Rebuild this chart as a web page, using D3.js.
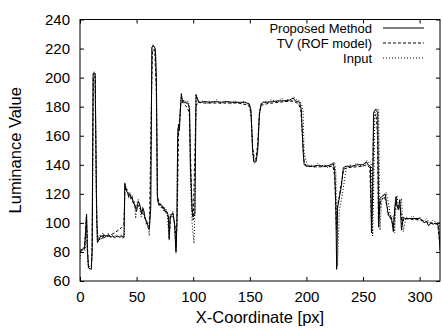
<!DOCTYPE html>
<html>
<head>
<meta charset="utf-8">
<script src="https://cdn.jsdelivr.net/npm/d3@7"></script>
<style>
  body { margin: 0; background: white; }
  svg { display: block; }
  text { font-family: "Liberation Sans", Arial, Helvetica, sans-serif; fill: black; }
</style>
</head>
<body>
<div id="chart"></div>
<script>

// ---- data ----
var xTicks = [0, 50, 100, 150, 200, 250, 300];
var yTicks = [60, 80, 100, 120, 140, 160, 180, 200, 220, 240];

var proposedX = [0, 2, 4, 5, 5.8, 6.5, 7.5, 10, 10.7, 11.6, 13.4, 14.5, 15.3, 16.5, 17.5, 19, 20, 21, 22, 24, 25, 27, 29, 31, 33, 35, 37, 38.8,
  39.6, 41, 42, 43, 44, 45, 46, 47, 48, 49, 50, 51.5, 53, 54.5, 55.5, 56.5, 57.5, 59, 60, 61.3, 62.5, 63.5, 65, 66.5, 67.5, 68.3,
  69, 70, 71, 72.2, 73, 74, 75, 76.6, 78, 78.8, 79.6, 81, 82, 83.5, 84.8, 85.6, 86.3, 87, 87.8, 88.6, 89.5, 90.5, 92, 94, 95.5, 96.8,
  97.5, 99, 100, 101.5, 102.5, 103.5, 105, 107, 110, 115, 120, 125, 130, 135, 140, 145, 149.5, 151, 152.5, 153.5, 155.5, 157, 158.5,
  160, 162, 165, 170, 175, 180, 185, 188.4, 190, 194, 195.5, 197, 198, 200, 205, 210, 215, 220, 223.8, 225, 226, 226.7, 227.5, 229,
  231, 232.6, 235, 240, 245, 250, 253, 254.5, 256.5, 257.5, 258.5, 259.3, 261, 263, 263.8, 265, 266.5, 269.5, 270.5, 272.4, 275,
  276.8, 278, 279.1, 280, 281.2, 282.5, 284, 285.5, 287, 290, 295, 300, 302, 304, 306, 308, 310, 312, 314, 316, 317, 318];
var proposedY = [81, 82, 82, 95, 106, 82, 69, 68, 80, 203, 203, 120, 87, 88, 90, 91, 90, 92, 91, 91, 92, 90, 91, 90, 91, 90, 91, 90,
  127, 122, 121, 118, 120, 117, 118, 114, 113, 110, 108, 115, 112, 106, 110, 108, 103, 101, 98, 97, 110, 221, 222, 220, 200, 120,
  114, 112, 113, 112, 110, 111, 108, 108, 105, 89, 104, 106, 107, 100, 80, 100, 160, 168, 164, 176, 189, 184, 183, 183, 182, 178,
  140, 110, 104, 106, 188, 186, 183, 183, 183.5, 183, 183.5, 183, 183.5, 183, 183, 183, 182, 178, 150, 142, 142, 150, 175,
  182, 183, 183, 183.5, 184, 184, 184.5, 186, 184, 183, 178, 150, 140, 139, 139, 139.5, 139, 139.5, 141, 136, 111, 68, 110, 117,
  126, 138, 139, 139, 140, 140, 142, 140, 139, 93, 120, 176, 178, 176, 97, 117, 118, 120, 115, 105, 104,
  94, 110, 118, 112, 109, 116, 95, 104, 103, 103, 103, 103, 102, 100, 101, 98, 100, 99, 100, 99, 96, 81];

var tvX = [0, 4, 5, 5.8, 6.5, 7.5, 10, 10.8, 11.8, 13.3, 14.8, 16, 18, 22, 26, 30, 34, 37, 38.8, 39.8, 42, 45, 48, 50, 52, 54, 56, 58,
  60, 61.3, 63, 64, 66, 67.5, 68.5, 70, 73, 76, 78, 79, 80, 82, 84, 85, 86, 87, 88, 89, 91, 93, 95, 96.5, 97.5, 99, 100, 102.5, 104,
  110, 120, 130, 140, 149, 151, 152.5, 154, 155.5, 157, 158.5, 160, 165, 175, 188, 193, 195, 196.5, 198, 200, 210, 223.5, 225, 226.5,
  227.5, 229, 231, 233, 236, 250, 253, 256, 257.5, 258.5, 259.5, 261.5, 262.8, 263.6, 265.5, 269, 271, 273, 276, 277, 279, 281, 283,
  284.5, 286, 300, 310, 316, 318];
var tvY = [80, 82, 96, 104, 84, 70, 70, 85, 200, 201, 100, 88, 89, 90, 91, 93, 95, 97, 99, 125, 121, 118, 113, 110, 112, 108, 106, 102,
  97, 95, 180, 219, 219, 190, 118, 113, 111, 107, 104, 92, 104, 105, 98, 84, 110, 160, 170, 183, 183, 181, 179, 176, 150, 108, 102, 180, 183,
  182.5, 182.5, 182.5, 182.5, 181, 176, 152, 144, 144, 155, 176, 181, 182, 183, 184, 182, 178, 160, 142, 139, 138.5, 139, 132, 95,
  112, 118, 128, 137, 138, 139, 140, 138, 100, 130, 172, 175, 160, 100, 115, 118, 112, 105, 100, 98, 114, 110, 112,
  99, 103, 102, 100, 99, 84];

var inputX = [0, 1, 3, 4.5, 5.5, 6.5, 7.5, 10, 10.7, 11.5, 12.5, 13.5, 14.5, 15.5, 17, 18, 19, 20, 21, 22, 23, 25, 26, 28, 30, 32, 34,
  36, 38, 39.3, 39.6, 41, 42, 43, 44, 45, 46, 47, 48, 49.2, 50, 51.5, 53, 54, 55.5, 56.5, 57.5, 58.5, 60, 61.2, 62.5, 63.5, 64.5,
  66, 67, 68.3, 69, 70, 71, 72, 73, 74, 76, 77, 78.8, 79.6, 81, 82, 83.5, 84.8, 85.6, 86.3, 87, 87.8, 88.6, 89.5, 90.5, 92, 94,
  95.5, 96.8, 97.5, 99, 100.7, 101.5, 102.5, 103.5, 106, 109, 112, 115, 118, 121, 124, 127, 130, 133, 136, 139, 142, 145, 148,
  150, 151.5, 152.5, 154, 155.5, 157, 158.5, 160, 163, 166, 169, 172, 175, 178, 181, 184, 187, 188.5, 191, 194, 195.5, 197,
  198, 201, 204, 207, 210, 213, 216, 219, 222, 223.8, 225, 226, 226.7, 227.5, 229, 231, 232.6, 235, 238, 241, 244, 247, 250,
  252, 253.5, 255, 256.5, 257.5, 258.5, 259.3, 260.5, 262, 263, 263.8, 265, 266.5, 268, 269.5, 270.5, 272.4, 274, 275.5, 276.8, 278,
  279.1, 280, 281.2, 282.5, 284, 285.5, 288, 291, 294, 297, 300, 303, 306, 309, 312, 315, 317, 318];
var inputY = [75, 80, 83, 81, 104, 80, 68, 69, 78, 200, 204, 200, 110, 86, 89, 92, 89, 93, 90, 92, 90, 93, 90, 92, 90, 92, 90,
  92, 89, 91, 128, 122, 123, 117, 121, 116, 119, 113, 115, 103, 112, 116, 110, 104, 111, 107, 104, 99, 100, 91, 120, 220, 223,
  219, 215, 115, 116, 112, 114, 110, 112, 108, 110, 106, 88, 106, 104, 108, 98, 79, 102, 165, 160, 170, 178, 187, 183, 185, 182,
  184, 180, 130, 100, 86, 110, 189, 184, 183, 184, 182, 184, 183, 185, 182, 184, 183, 182, 184, 183, 182, 184, 182,
  180, 170, 148, 141, 143, 152, 174, 181, 184, 183, 185, 184, 183, 186, 184, 185, 183, 187, 185, 184, 182, 178, 148,
  139, 140, 138, 141, 139, 140, 138, 139, 141, 142, 134, 105, 70, 108, 116, 124, 137, 140, 139, 141, 140, 139, 141,
  143, 141, 142, 139, 91, 118, 177, 179, 176, 178, 95, 116, 119, 117, 121, 114, 106, 103, 105, 93, 112,
  119, 111, 110, 117, 94, 104, 103, 105, 102, 104, 101, 103, 100, 102, 99, 101, 97, 85];

var seriesNames = ['Proposed Method', 'TV (ROF model)', 'Input'];
var seriesDash = ['none', '3,2', '1,2'];

// ---- layout ----
var width = 443, height = 330;
var plot = {left: 80, right: 440, top: 19.5, bottom: 281};

var svg = d3.select('#chart').append('svg')
    .attr('width', width)
    .attr('height', height);

var x = d3.scaleLinear().domain([0, 318]).range([plot.left, plot.right]);
var y = d3.scaleLinear().domain([60, 240]).range([plot.bottom, plot.top]);

svg.append('defs').append('clipPath').attr('id', 'clip')
  .append('rect')
    .attr('x', plot.left).attr('y', plot.top)
    .attr('width', plot.right - plot.left)
    .attr('height', plot.bottom - plot.top);

// axes, gnuplot style: ticks point inwards and are mirrored
var tickLen = 4;
var axisBottom = d3.axisBottom(x).tickValues(xTicks).tickSizeInner(-tickLen).tickSizeOuter(0).tickPadding(10);
var axisLeft = d3.axisLeft(y).tickValues(yTicks).tickSizeInner(-tickLen).tickSizeOuter(0).tickPadding(10);
var axisTop = d3.axisTop(x).tickValues(xTicks).tickSizeInner(-tickLen).tickSizeOuter(0).tickFormat('');
var axisRight = d3.axisRight(y).tickValues(yTicks).tickSizeInner(-tickLen).tickSizeOuter(0).tickFormat('');

function styleAxis(g) {
  g.select('.domain').remove();
  g.selectAll('line').attr('stroke', 'black').attr('stroke-width', 1);
  g.selectAll('text')
    .style('font-family', '"Liberation Sans", Arial, sans-serif')
    .style('font-size', '15px')
    .attr('fill', 'black');
}

svg.append('g').attr('transform', 'translate(0,' + plot.bottom + ')').call(axisBottom).call(styleAxis);
svg.append('g').attr('transform', 'translate(' + plot.left + ',0)').call(axisLeft).call(styleAxis);
svg.append('g').attr('transform', 'translate(0,' + plot.top + ')').call(axisTop).call(styleAxis);
svg.append('g').attr('transform', 'translate(' + plot.right + ',0)').call(axisRight).call(styleAxis);

// frame
svg.append('rect')
    .attr('x', plot.left).attr('y', plot.top)
    .attr('width', plot.right - plot.left)
    .attr('height', plot.bottom - plot.top)
    .attr('fill', 'none')
    .attr('stroke', 'black')
    .attr('stroke-width', 1);

// axis titles
svg.append('text')
    .attr('x', (plot.left + plot.right) / 2)
    .attr('y', 323)
    .attr('text-anchor', 'middle')
    .style('font-size', '16.5px')
    .text('X-Coordinate [px]');

svg.append('text')
    .attr('transform', 'translate(21,' + (plot.top + plot.bottom) / 2 + ') rotate(-90)')
    .attr('text-anchor', 'middle')
    .style('font-size', '16.5px')
    .text('Luminance Value');

// series
var line = d3.line()
    .x(function(d){ return x(d[0]); })
    .y(function(d){ return y(d[1]); });

var series = [
  d3.zip(proposedX, proposedY),
  d3.zip(tvX, tvY),
  d3.zip(inputX, inputY)
];

// draw input first so the solid line sits on top
[2, 1, 0].forEach(function(i){
  svg.append('path')
      .datum(series[i])
      .attr('clip-path', 'url(#clip)')
      .attr('fill', 'none')
      .attr('stroke', 'black')
      .attr('stroke-width', 1)
      .attr('stroke-dasharray', seriesDash[i])
      .attr('d', line);
});

// legend (rows spaced so the text boxes do not touch)
var legend = svg.append('g').attr('class', 'legend');
seriesNames.forEach(function(name, i){
  var ly = 28 + i * 15;
  legend.append('text')
      .attr('x', 372)
      .attr('y', ly + 5)
      .attr('text-anchor', 'end')
      .style('font-size', '13px')
      .text(name);
  legend.append('line')
      .attr('x1', 383).attr('x2', 424)
      .attr('y1', ly).attr('y2', ly)
      .attr('stroke', 'black')
      .attr('stroke-width', 1)
      .attr('stroke-dasharray', seriesDash[i]);
});

</script>
</body>
</html>
